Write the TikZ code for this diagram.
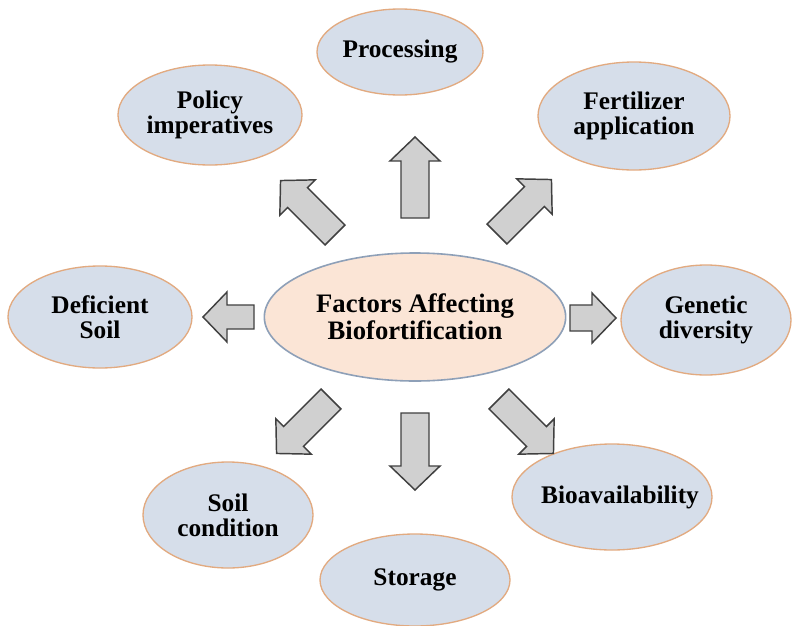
\documentclass[tikz,border=0pt]{standalone}
\usepackage{fontspec}
\setmainfont{Liberation Serif}
\usetikzlibrary{shapes.geometric}
\definecolor{outfill}{RGB}{214,222,234}
\definecolor{outline}{RGB}{226,170,128}
\definecolor{cenfill}{RGB}{251,229,214}
\definecolor{cenline}{RGB}{142,160,184}
\definecolor{arrfill}{RGB}{208,208,208}
\definecolor{arrline}{RGB}{64,64,64}
\tikzset{
  outerfont/.style={font=\fontsize{19}{18.5}\selectfont\bfseries},
  outer/.style={ellipse, draw=outline, fill=outfill, line width=1pt, inner sep=0pt,
    align=center, outerfont},
  center/.style={ellipse, draw=cenline, fill=cenfill, line width=1.2pt, inner sep=0pt,
    align=center, font=\fontsize{20}{20}\selectfont\bfseries},
  fatstyle/.style={draw=arrline, fill=arrfill, line width=1.1pt, line join=miter}
}
\newcommand\fatarr[4]{%
  \begin{scope}[shift={(#1)}, rotate=#2]
    \draw[fatstyle] (0,-#4) -- ({#3-24},-#4) -- ({#3-24},-25) -- (#3,0)
      -- ({#3-24},25) -- ({#3-24},#4) -- (0,#4) -- cycle;
  \end{scope}}
\begin{document}
\begin{tikzpicture}[x=0.75pt,y=-0.75pt]
\useasboundingbox (0,0) rectangle (792,625);
\fill[white] (0,0) rectangle (792,625);
% nodes
\node[center, minimum width=226pt, minimum height=96pt] (c) at (415,317) {Factors Affecting\\Biofortification};
\node[outer, minimum width=124.5pt, minimum height=64.5pt] (proc) at (400,52) {Processing};
\node[outer, minimum width=138pt, minimum height=75pt] (pol) at (210,115) {Policy\\imperatives};
\node[outer, minimum width=144pt, minimum height=81pt] (fert) at (634,116) {Fertilizer\\application};
\node[outer, minimum width=138pt, minimum height=76.5pt] (def) at (100,317) {Deficient\\Soil};
\node[outer, minimum width=127.5pt, minimum height=82.5pt] (gen) at (706,320) {Genetic\\diversity};
\node[outer, minimum width=127.5pt, minimum height=79.5pt] (soil) at (228,515) {Soil\\condition};
\node[outer, minimum width=142.5pt, minimum height=69pt] (stor) at (415,580) {Storage};
\node[outer, minimum width=150pt, minimum height=79.5pt,
  label={[outerfont, xshift=6pt]center:Bioavailability}] (bio) at (612,497) {};
% arrow tails
\coordinate (tUp) at (415,218);
\coordinate (tDn) at (415,413);
\coordinate (tLf) at (254,317);
\coordinate (tRt) at (570,318);
\coordinate (tUL) at (335,235);
\coordinate (tUR) at (497,234);
\coordinate (tLL) at (331,399);
\coordinate (tLR) at (499,399);
\fatarr{tUp}{90}{81}{14}
\fatarr{tDn}{-90}{77}{14}
\fatarr{tLf}{180}{51}{12}
\fatarr{tRt}{0}{46}{13}
\fatarr{tUL}{135}{77}{14}
\fatarr{tUR}{45}{77}{14}
\fatarr{tLL}{-135}{77}{14}
\fatarr{tLR}{-45}{77}{14}
\end{tikzpicture}
\end{document}
